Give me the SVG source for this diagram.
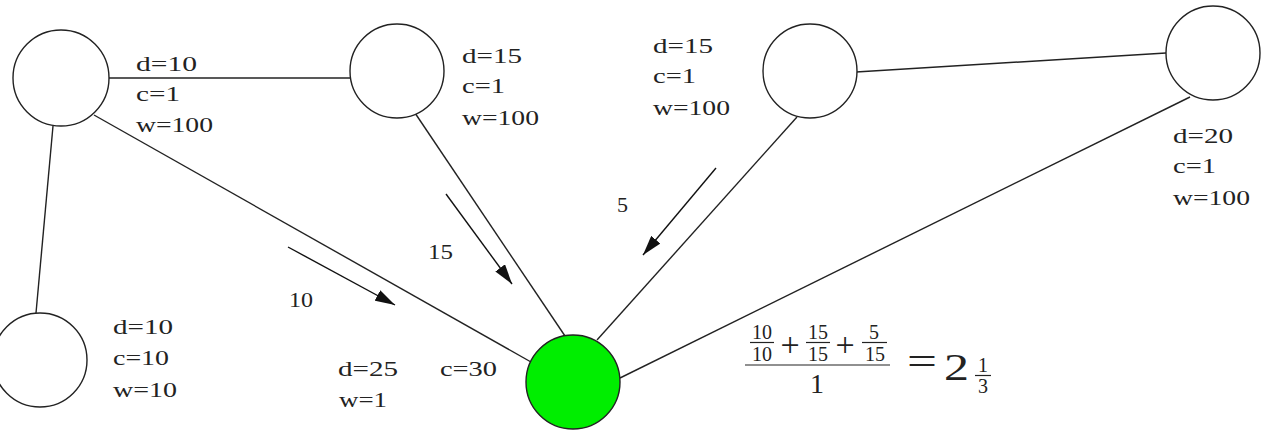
<svg xmlns="http://www.w3.org/2000/svg" width="1261" height="438" viewBox="0 0 1261 438" font-family="Liberation Serif, serif">
<style>
.node{fill:#fff;stroke:#222;stroke-width:1.4}
.green{fill:#00ee00}
.edge{stroke:#222;stroke-width:1.4;fill:none}
.arr{stroke:#111;stroke-width:1.4;fill:none;marker-end:url(#ah)}
text{fill:#222}
.lbl{font-size:21px}
.sm{font-size:20px;text-anchor:middle}
.bar{stroke:#222;stroke-width:1.2}
</style>
<defs>
<marker id="ah" viewBox="0 0 20 12" refX="20" refY="6" markerWidth="20" markerHeight="12" markerUnits="userSpaceOnUse" orient="auto">
<path d="M0,0 L20,6 L0,12 Z" fill="#111"/>
</marker>
</defs>
<g id="connectors">
<line class="edge" x1="109" y1="78" x2="350" y2="78"/>
<line class="edge" x1="53" y1="126" x2="36" y2="313"/>
<line class="edge" x1="94" y1="115" x2="531" y2="362"/>
<line class="edge" x1="415" y1="113" x2="565" y2="336"/>
<line class="edge" x1="797" y1="117" x2="597" y2="340"/>
<line class="edge" x1="856" y1="72" x2="1166" y2="53"/>
<line class="edge" x1="1190" y1="97" x2="620" y2="378"/>
<line class="arr" x1="288" y1="247" x2="395" y2="305"/>
<line class="arr" x1="446" y1="194" x2="512" y2="284"/>
<line class="arr" x1="716" y1="168" x2="643" y2="255"/>
</g>
<g id="nodeA"><circle class="node" cx="61" cy="78" r="48"/></g>
<g id="nodeB"><circle class="node" cx="397" cy="71" r="47"/></g>
<g id="nodeC"><circle class="node" cx="810" cy="71" r="47"/></g>
<g id="nodeD"><circle class="node" cx="1213" cy="53" r="47"/></g>
<g id="nodeE"><circle class="node" cx="40" cy="360" r="47"/></g>
<g id="nodeG"><circle class="node green" cx="573" cy="382" r="47"/></g>
<g id="labels" font-family="Liberation Serif, serif">
<text class="lbl" x="136" y="71" textLength="61" lengthAdjust="spacingAndGlyphs">d=10</text>
<text class="lbl" x="136" y="101" textLength="44" lengthAdjust="spacingAndGlyphs">c=1</text>
<text class="lbl" x="136" y="132" textLength="77" lengthAdjust="spacingAndGlyphs">w=100</text>
<text class="lbl" x="462" y="63" textLength="60" lengthAdjust="spacingAndGlyphs">d=15</text>
<text class="lbl" x="462" y="93" textLength="43" lengthAdjust="spacingAndGlyphs">c=1</text>
<text class="lbl" x="462" y="125" textLength="77" lengthAdjust="spacingAndGlyphs">w=100</text>
<text class="lbl" x="653" y="53" textLength="60" lengthAdjust="spacingAndGlyphs">d=15</text>
<text class="lbl" x="653" y="83" textLength="43" lengthAdjust="spacingAndGlyphs">c=1</text>
<text class="lbl" x="653" y="115" textLength="77" lengthAdjust="spacingAndGlyphs">w=100</text>
<text class="lbl" x="1173" y="143" textLength="60" lengthAdjust="spacingAndGlyphs">d=20</text>
<text class="lbl" x="1173" y="173" textLength="43" lengthAdjust="spacingAndGlyphs">c=1</text>
<text class="lbl" x="1173" y="205" textLength="77" lengthAdjust="spacingAndGlyphs">w=100</text>
<text class="lbl" x="113" y="334" textLength="60" lengthAdjust="spacingAndGlyphs">d=10</text>
<text class="lbl" x="113" y="365" textLength="56" lengthAdjust="spacingAndGlyphs">c=10</text>
<text class="lbl" x="113" y="397" textLength="64" lengthAdjust="spacingAndGlyphs">w=10</text>
<text class="lbl" x="338" y="376" textLength="60" lengthAdjust="spacingAndGlyphs">d=25</text>
<text class="lbl" x="339" y="407" textLength="48" lengthAdjust="spacingAndGlyphs">w=1</text>
<text class="lbl" x="440" y="376" textLength="57" lengthAdjust="spacingAndGlyphs">c=30</text>
<text class="lbl" x="289" y="307" textLength="24" lengthAdjust="spacingAndGlyphs">10</text>
<text class="lbl" x="428" y="259" textLength="25" lengthAdjust="spacingAndGlyphs">15</text>
<text class="lbl" x="617" y="212" textLength="11" lengthAdjust="spacingAndGlyphs">5</text>
</g>
<g id="formula" font-family="Liberation Serif, serif">
<text class="sm" x="762" y="339">10</text>
<line class="bar" x1="750" y1="342.5" x2="774" y2="342.5"/>
<text class="sm" x="762" y="361">10</text>
<text x="790" y="356" font-size="34" text-anchor="middle">+</text>
<text class="sm" x="818" y="339">15</text>
<line class="bar" x1="806" y1="342.5" x2="830" y2="342.5"/>
<text class="sm" x="818" y="361">15</text>
<text x="845" y="356" font-size="34" text-anchor="middle">+</text>
<text class="sm" x="874" y="339">5</text>
<line class="bar" x1="862" y1="342.5" x2="887" y2="342.5"/>
<text class="sm" x="875" y="361">15</text>
<line class="bar" x1="745" y1="365" x2="890" y2="365" stroke-width="1.6"/>
<text x="817" y="393" font-size="28" text-anchor="middle">1</text>
<text x="907" y="374" font-size="38" textLength="30" lengthAdjust="spacingAndGlyphs">=</text>
<text x="944" y="380" font-size="37" textLength="25" lengthAdjust="spacingAndGlyphs">2</text>
<text class="sm" x="983" y="372">1</text>
<line class="bar" x1="975" y1="375.5" x2="991" y2="375.5"/>
<text class="sm" x="983" y="393">3</text>
</g>
</svg>
